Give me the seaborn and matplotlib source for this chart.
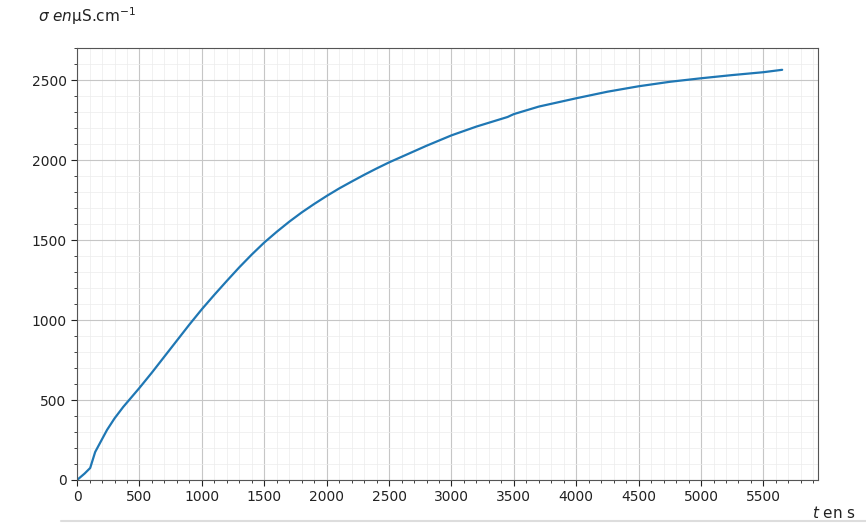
import numpy as np
import pandas as pd
import matplotlib
matplotlib.use("Agg")
import matplotlib.pyplot as plt
import seaborn as sns
from matplotlib.ticker import MultipleLocator

# conductivity vs time
t = [0, 60, 105, 145, 200, 240, 300, 370, 500, 600, 700, 800, 900, 1000,
     1100, 1200, 1300, 1400, 1500, 1600, 1700, 1800, 1900, 2000, 2100, 2200,
     2300, 2400, 2500, 2800, 3000, 3200, 3450, 3480, 3500, 3700, 4000, 4250,
     4500, 4750, 5000, 5250, 5500, 5650]
sigma = [0, 40, 75, 175, 255, 313, 385, 457, 576, 672, 772, 872, 972, 1068,
         1158, 1245, 1330, 1410, 1485, 1552, 1615, 1673, 1726, 1776, 1823, 1866,
         1908, 1948, 1986, 2090, 2155, 2210, 2270, 2281, 2288, 2335, 2387, 2428,
         2462, 2490, 2512, 2532, 2550, 2565]

df = pd.DataFrame({"t": t, "sigma": sigma})

sns.set_style("white")
fig = plt.figure(figsize=(8.66, 5.24), dpi=100)
ax = fig.add_axes([0.089, 0.084, 0.856, 0.824])

sns.lineplot(data=df, x="t", y="sigma", ax=ax, color="#1f77b4", linewidth=1.6)

ax.set_xlim(0, 5940)
ax.set_ylim(0, 2700)
ax.xaxis.set_major_locator(MultipleLocator(500))
ax.xaxis.set_minor_locator(MultipleLocator(100))
ax.yaxis.set_major_locator(MultipleLocator(500))
ax.yaxis.set_minor_locator(MultipleLocator(100))
ax.grid(which="major", color="#c6c6c6", linewidth=0.8)
ax.grid(which="minor", color="#ececec", linewidth=0.5)
ax.tick_params(which="both", direction="out", bottom=True, left=True, labelsize=10, colors="#222222")
ax.tick_params(which="major", length=4)
ax.tick_params(which="minor", length=2.5)
for s in ax.spines.values():
    s.set_color("#555555")
    s.set_linewidth(0.8)

ax.set_xlabel("")
ax.set_ylabel("")
fig.text(0.044, 0.958, r"$\sigma\ en$µS.cm$^{-1}$", fontsize=11, color="#222222")
fig.text(0.938, 0.012, r"$t$ en s", fontsize=11, color="#222222")
fig.add_artist(plt.Line2D([0.07, 1.0], [0.006, 0.006], color="#dddddd", linewidth=1.5))

fig.savefig("out.png", dpi=100)
